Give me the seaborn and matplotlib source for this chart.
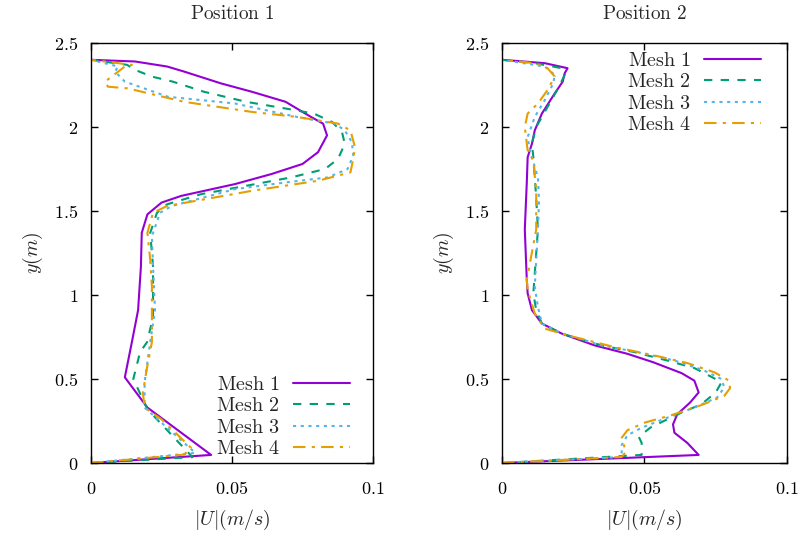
import numpy as np
import pandas as pd
import matplotlib
matplotlib.use("Agg")
import matplotlib.pyplot as plt
import seaborn as sns

sns.set_theme(style="white")
plt.rcParams["mathtext.fontset"] = "cm"
plt.rcParams["font.family"] = ["DejaVu Serif"]

# ---------------- data ----------------
# Position 1
p1_m1_u = [0.0, 0.0426, 0.020, 0.012, 0.0145, 0.0167, 0.0177, 0.018, 0.020, 0.025, 0.032, 0.051, 0.064, 0.075, 0.0805, 0.0837, 0.0823, 0.078, 0.069, 0.057, 0.046, 0.033, 0.027, 0.0156, 0.0]
p1_m1_y = [0.0, 0.048, 0.33, 0.51, 0.72, 0.91, 1.17, 1.37, 1.48, 1.55, 1.59, 1.66, 1.72, 1.78, 1.85, 1.95, 2.02, 2.06, 2.15, 2.21, 2.26, 2.33, 2.36, 2.39, 2.40]

p1_m2_u = [0.0, 0.036, 0.020, 0.015, 0.0174, 0.0199, 0.022, 0.022, 0.021, 0.0234, 0.027, 0.039, 0.055, 0.071, 0.083, 0.0876, 0.090, 0.089, 0.0855, 0.079, 0.069, 0.055, 0.040, 0.029, 0.0216, 0.0156, 0.0128, 0.0]
p1_m2_y = [0.0, 0.035, 0.32, 0.50, 0.66, 0.72, 0.87, 1.17, 1.37, 1.49, 1.54, 1.60, 1.65, 1.70, 1.75, 1.81, 1.90, 1.97, 2.03, 2.08, 2.11, 2.15, 2.21, 2.27, 2.30, 2.34, 2.37, 2.40]

p1_m3_u = [0.0, 0.037, 0.019, 0.019, 0.021, 0.0227, 0.022, 0.0216, 0.0245, 0.0287, 0.051, 0.069, 0.084, 0.091, 0.093, 0.0925, 0.090, 0.0865, 0.073, 0.051, 0.0273, 0.012, 0.0085, 0.0096, 0.0]
p1_m3_y = [0.0, 0.06, 0.33, 0.48, 0.72, 0.91, 1.17, 1.35, 1.49, 1.53, 1.63, 1.67, 1.70, 1.75, 1.83, 1.91, 1.98, 2.02, 2.06, 2.14, 2.18, 2.27, 2.33, 2.36, 2.40]

p1_m4_u = [0.0, 0.033, 0.0355, 0.025, 0.019, 0.0184, 0.0199, 0.0216, 0.0216, 0.0216, 0.021, 0.020, 0.022, 0.027, 0.057, 0.0805, 0.092, 0.093, 0.0936, 0.092, 0.0876, 0.073, 0.057, 0.033, 0.013, 0.006, 0.005, 0.012, 0.0145, 0.0]
p1_m4_y = [0.0, 0.05, 0.09, 0.26, 0.33, 0.42, 0.57, 0.72, 0.91, 1.05, 1.21, 1.37, 1.49, 1.53, 1.62, 1.68, 1.73, 1.81, 1.88, 1.98, 2.02, 2.06, 2.09, 2.15, 2.23, 2.24, 2.27, 2.36, 2.37, 2.40]

# Position 2
p2_m1_u = [0.0, 0.069, 0.065, 0.0605, 0.060, 0.0615, 0.066, 0.069, 0.0675, 0.063, 0.053, 0.044, 0.0325, 0.021, 0.014, 0.0105, 0.009, 0.0087, 0.008, 0.0087, 0.009, 0.0105, 0.0115, 0.014, 0.0185, 0.0213, 0.022, 0.023, 0.015, 0.0]
p2_m1_y = [0.0, 0.048, 0.12, 0.18, 0.23, 0.29, 0.36, 0.42, 0.49, 0.535, 0.60, 0.65, 0.70, 0.77, 0.83, 0.91, 1.01, 1.09, 1.39, 1.67, 1.82, 1.90, 1.98, 2.08, 2.20, 2.27, 2.32, 2.35, 2.38, 2.40]

p2_m2_u = [0.0, 0.049, 0.049, 0.048, 0.052, 0.058, 0.063, 0.070, 0.075, 0.077, 0.0738, 0.0675, 0.058, 0.0465, 0.035, 0.021, 0.014, 0.012, 0.011, 0.0126, 0.012, 0.0115, 0.011, 0.0105, 0.012, 0.016, 0.020, 0.022, 0.021, 0.0115, 0.0]
p2_m2_y = [0.0, 0.048, 0.12, 0.155, 0.21, 0.26, 0.30, 0.35, 0.42, 0.48, 0.51, 0.565, 0.61, 0.66, 0.70, 0.77, 0.83, 0.91, 1.01, 1.39, 1.58, 1.70, 1.82, 1.90, 2.00, 2.12, 2.24, 2.31, 2.35, 2.38, 2.40]

p2_m3_u = [0.0, 0.042, 0.042, 0.044, 0.049, 0.058, 0.0675, 0.0755, 0.078, 0.077, 0.071, 0.0605, 0.0475, 0.035, 0.021, 0.014, 0.0126, 0.0115, 0.0126, 0.013, 0.0126, 0.0098, 0.009, 0.0115, 0.015, 0.018, 0.0185, 0.015, 0.0]
p2_m3_y = [0.0, 0.036, 0.107, 0.165, 0.21, 0.27, 0.33, 0.39, 0.45, 0.50, 0.55, 0.61, 0.66, 0.70, 0.77, 0.83, 0.93, 1.05, 1.39, 1.56, 1.70, 1.86, 1.94, 2.06, 2.16, 2.26, 2.31, 2.36, 2.40]

p2_m4_u = [0.0, 0.042, 0.0435, 0.042, 0.044, 0.050, 0.0595, 0.070, 0.078, 0.080, 0.0797, 0.0745, 0.065, 0.0535, 0.0395, 0.023, 0.015, 0.0115, 0.009, 0.0087, 0.012, 0.012, 0.011, 0.009, 0.008, 0.009, 0.0126, 0.016, 0.0185, 0.016, 0.0115, 0.0]
p2_m4_y = [0.0, 0.036, 0.066, 0.15, 0.195, 0.24, 0.285, 0.345, 0.40, 0.445, 0.49, 0.54, 0.595, 0.64, 0.69, 0.76, 0.80, 0.89, 1.03, 1.09, 1.39, 1.62, 1.80, 1.86, 2.00, 2.08, 2.14, 2.22, 2.30, 2.35, 2.38, 2.40]

titles = ["Position 1", "Position 2"]
mesh_names = ["Mesh 1", "Mesh 2", "Mesh 3", "Mesh 4"]
x_ticks = [0, 0.05, 0.1]
x_ticklabels = ["0", "0.05", "0.1"]
y_ticks = [0, 0.5, 1, 1.5, 2, 2.5]
y_ticklabels = ["0", "0.5", "1", "1.5", "2", "2.5"]

colors = ["#9400D3", "#009E73", "#56B4E9", "#E69F00"]
styles = ["-", (0, (4, 4)), (0, (1.5, 2.2)), (0, (6, 3, 1.5, 3))]

panels = [
    [(p1_m1_u, p1_m1_y), (p1_m2_u, p1_m2_y), (p1_m3_u, p1_m3_y), (p1_m4_u, p1_m4_y)],
    [(p2_m1_u, p2_m1_y), (p2_m2_u, p2_m2_y), (p2_m3_u, p2_m3_y), (p2_m4_u, p2_m4_y)],
]

fig = plt.figure(figsize=(8, 5.33), dpi=100)
axes = [fig.add_axes([91/800, 1 - 463/533, 282/800, 420/533]),
        fig.add_axes([502/800, 1 - 463/533, 285/800, 420/533])]

def m(s):
    return r"$\mathrm{" + s.replace(" ", r"\ ") + "}$"

for pi, ax in enumerate(axes):
    for k, (u, y) in enumerate(panels[pi]):
        df = pd.DataFrame({"U": u, "y": y})
        sns.lineplot(data=df, x="U", y="y", sort=False, estimator=None,
                     color=colors[k], linestyle=styles[k], linewidth=1.5,
                     label=m(mesh_names[k]), ax=ax)
    ax.set_xlim(0, 0.1)
    ax.set_ylim(0, 2.5)
    ax.set_xticks(x_ticks)
    ax.set_xticklabels([m(t) for t in x_ticklabels], fontsize=13)
    ax.set_yticks(y_ticks)
    ax.set_yticklabels([m(t) for t in y_ticklabels], fontsize=13)
    ax.tick_params(direction="in", length=5, width=1, top=True, right=True,
                   bottom=True, left=True, pad=9, colors="black")
    ax.tick_params(axis="x", pad=12)
    for sp in ax.spines.values():
        sp.set_visible(True)
        sp.set_color("black")
        sp.set_linewidth(1.0)
    ax.set_title(m(titles[pi]), fontsize=13.8, pad=17)
    ax.set_xlabel(r"$|U|(m/s)$", fontsize=14.3, labelpad=7)
    ax.set_ylabel(r"$y(m)$", fontsize=14.3, labelpad=7)
    ax.grid(False)

leg_kw = dict(frameon=False, markerfirst=False, fontsize=14.5, handlelength=2.85,
              labelspacing=0.12, handletextpad=0.65, borderaxespad=0.0)
axes[0].legend(loc="lower right", bbox_to_anchor=(0.948, -0.008), **leg_kw)
axes[1].legend(loc="upper right", bbox_to_anchor=(0.938, 1.0), **leg_kw)

fig.savefig("out.png", dpi=100)
